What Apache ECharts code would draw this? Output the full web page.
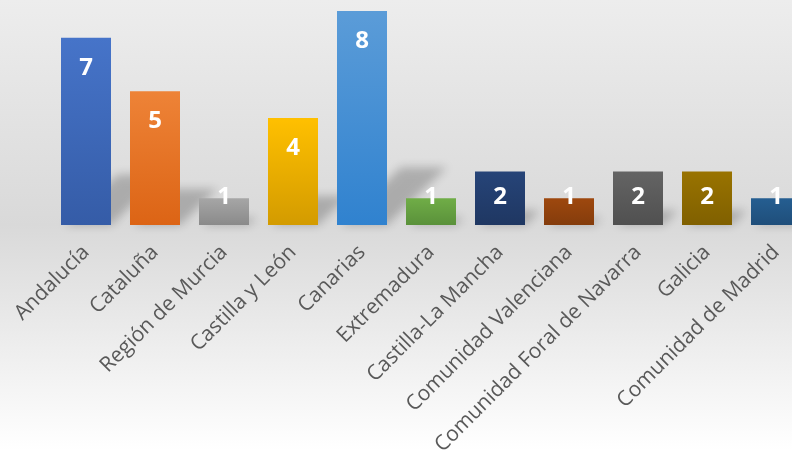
<!DOCTYPE html>
<html>
<head>
<meta charset="utf-8">
<script src="https://cdn.jsdelivr.net/npm/echarts@6/dist/echarts.min.js"></script>
<style>
html,body{margin:0;padding:0;}
#c{width:792px;height:450px;}
</style>
</head>
<body>
<div id="c"></div>
<script>
var categories = ['Andalucía','Cataluña','Región de Murcia','Castilla y León','Canarias','Extremadura','Castilla-La Mancha','Comunidad Valenciana','Comunidad Foral de Navarra','Galicia','Comunidad de Madrid'];
var values = [7,5,1,4,8,1,2,1,2,2,1];
var topColors = ['#4674C9','#EE8337','#A6A6A6','#FFC000','#5B9CD8','#70AD47','#264478','#9E480E','#646464','#997300','#255E91'];
var bottomColors = ['#355CA7','#DC6415','#8A8A8A','#D39B00','#3082CF','#5A913A','#1F3762','#843C0C','#505050','#806000','#1F4E7A'];

var chart = echarts.init(document.getElementById('c'), null, {renderer:'canvas'});
var gridTop = 11, gridBottom = 225, yMax = 8;
var pxPerUnit = (450 - gridTop - gridBottom) / yMax;
var BAR_W = 50;

var data = values.map(function(v, i){
  var h = v * pxPerUnit;
  return {
    value: v,
    itemStyle: {
      color: new echarts.graphic.LinearGradient(0,0,0,1,[
        {offset:0, color: topColors[i]},
        {offset:1, color: bottomColors[i]}
      ])
    },
    label: { position: ['50%', Math.min(30, h - 28)] }
  };
});

var shadowData = values.map(function(v, i){ return [i, v]; });

chart.setOption({
  backgroundColor: new echarts.graphic.LinearGradient(0,0,0,1,[
    {offset:0, color:'#EDEDED'},
    {offset:0.5, color:'#D9D9D9'},
    {offset:1, color:'#FFFFFF'}
  ]),
  animation: false,
  grid: {left: 51.5, right: -18.5, top: gridTop, bottom: gridBottom, containLabel: false, outerBoundsMode: 'none'},
  xAxis: {
    type: 'category',
    data: categories,
    axisLine: {show:false},
    axisTick: {show:false},
    axisLabel: {
      interval: 0,
      rotate: 45,
      margin: 24,
      color: '#595959',
      fontFamily: 'Open Sans',
      fontSize: 21
    }
  },
  yAxis: {
    type: 'value', min: 0, max: yMax, interval: 1,
    show: false,
    splitLine: {show:false}
  },
  series: [{
    type: 'custom',
    data: shadowData,
    z: 1,
    silent: true,
    renderItem: function(params, api){
      var base = api.coord([api.value(0), 0]);
      var top = api.coord([api.value(0), api.value(1)]);
      var h = base[1] - top[1];
      var x0 = base[0] - BAR_W/2 + 4, x1 = base[0] + BAR_W/2;
      var s = 0.28 * h, hh = 0.27 * h;
      var OFF = 3000;
      return {
        type: 'polygon',
        shape: {points: [
          [x0 + OFF, base[1]], [x1 + OFF, base[1]],
          [x1 + s + OFF, base[1] - hh], [x0 + s + OFF, base[1] - hh]
        ]},
        style: {
          fill: '#000',
          shadowColor: 'rgba(0,0,0,0.22)',
          shadowBlur: 10,
          shadowOffsetX: -OFF,
          shadowOffsetY: 0
        }
      };
    }
  },{
    type: 'bar',
    data: data,
    barWidth: BAR_W,
    z: 2,
    label: {
      show: true,
      align: 'center',
      verticalAlign: 'middle',
      color: '#FFFFFF',
      fontFamily: 'Open Sans',
      fontWeight: 'bold',
      fontSize: 24
    }
  }]
});
</script>
</body>
</html>
